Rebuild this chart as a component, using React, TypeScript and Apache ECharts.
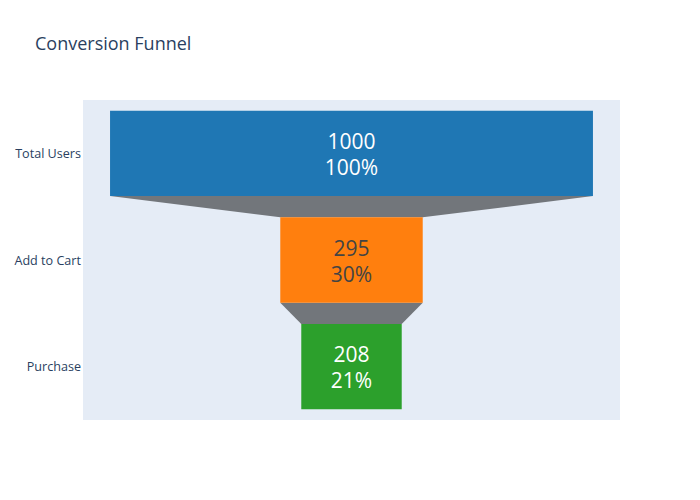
import React, { useEffect, useRef } from "react";
import * as echarts from "echarts";

const categories = ["Total Users", "Add to Cart", "Purchase"];
const values = [1000, 295, 208];
const barColors = ["#1f77b4", "#ff7f0e", "#2ca02c"];
const textColors = ["#ffffff", "#444444", "#ffffff"];

export default function App() {
  const ref = useRef<HTMLDivElement>(null);
  useEffect(() => {
    if (!ref.current) return;
    const chart = echarts.init(ref.current, undefined, { renderer: "svg" });
    const first = values[0];
    const barData = values.map((v, i) => [v, i]);
    const connData = values.slice(0, -1).map((v, i) => [v, i]);
    const frac = 0.8;

    chart.setOption({
      animation: false,
      backgroundColor: "#ffffff",
      title: {
        text: "Conversion Funnel",
        left: 35,
        top: 34,
        padding: 0,
        textStyle: {
          fontFamily: "Open Sans",
          fontSize: 18,
          fontWeight: "normal",
          color: "#2a3f5f",
        },
      },
      grid: {
        left: 83,
        right: 80,
        top: 100,
        bottom: 80,
        show: true,
        backgroundColor: "#E5ECF6",
        borderWidth: 0,
      },
      xAxis: {
        type: "value",
        min: -556,
        max: 556,
        show: false,
      },
      yAxis: {
        type: "category",
        data: categories,
        inverse: true,
        axisLine: { show: false },
        axisTick: { show: false },
        splitLine: { show: false },
        axisLabel: {
          margin: 2,
          fontFamily: "Open Sans",
          fontSize: 12.6,
          color: "#2a3f5f",
        },
      },
      series: [
        {
          type: "custom",
          data: connData,
          encode: { x: 0, y: 1 },
          renderItem: (params: any, api: any) => {
            const i = api.value(1);
            const v1 = values[i];
            const v2 = values[i + 1];
            const h = api.size([0, 1])[1] * frac;
            const a = api.coord([-v1 / 2, i]);
            const b = api.coord([v1 / 2, i]);
            const c = api.coord([v2 / 2, i + 1]);
            const d = api.coord([-v2 / 2, i + 1]);
            return {
              type: "polygon",
              shape: {
                points: [
                  [a[0], a[1] + h / 2],
                  [b[0], b[1] + h / 2],
                  [c[0], c[1] - h / 2],
                  [d[0], d[1] - h / 2],
                ],
              },
              style: { fill: "#72767b" },
            };
          },
          z: 2,
        },
        {
          type: "custom",
          data: barData,
          encode: { x: 0, y: 1 },
          renderItem: (params: any, api: any) => {
            const v = api.value(0);
            const i = api.value(1);
            const h = api.size([0, 1])[1] * frac;
            const l = api.coord([-v / 2, i]);
            const r = api.coord([v / 2, i]);
            const cx = (l[0] + r[0]) / 2;
            const pct = Math.round((v / first) * 100);
            const txt = (s: string, y: number) => ({
              type: "text",
              x: cx,
              y,
              style: {
                text: s,
                fill: textColors[i],
                font: "21px 'Open Sans'",
                align: "center",
                verticalAlign: "middle",
              },
            });
            return {
              type: "group",
              children: [
                {
                  type: "rect",
                  shape: { x: l[0], y: l[1] - h / 2, width: r[0] - l[0], height: h },
                  style: { fill: barColors[i] },
                },
                txt(String(v), l[1] - 12.5),
                txt(pct + "%", l[1] + 13.5),
              ],
            };
          },
          z: 3,
        },
      ],
    });
    return () => chart.dispose();
  }, []);
  return (
    <div
      ref={ref}
      style={{ position: "absolute", left: 0, top: 0, width: 700, height: 500 }}
    />
  );
}
